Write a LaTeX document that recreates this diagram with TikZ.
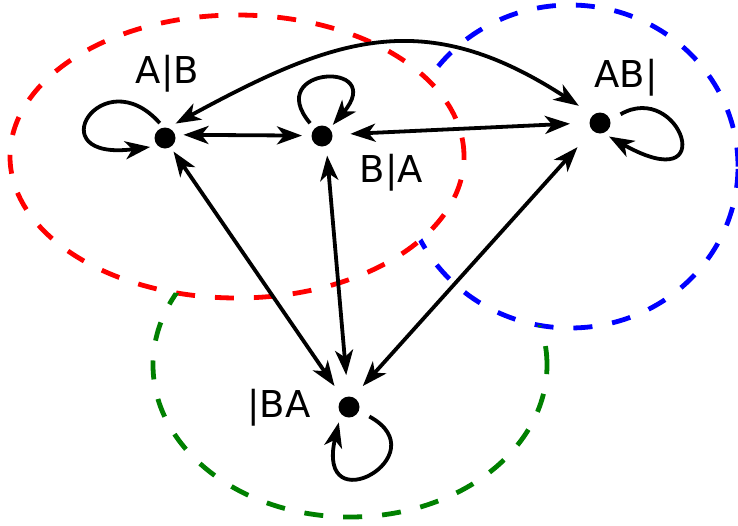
\documentclass[tikz,border=0pt]{standalone}
\usepackage{fontspec}
\setmainfont{DejaVu Sans}
\usetikzlibrary{arrows.meta}
\definecolor{dgreen}{RGB}{0,128,0}
\begin{document}
\begin{tikzpicture}[x=1pt,y=-1pt,
  dot/.style={circle,fill=black,draw=none,minimum size=21pt,inner sep=0pt,outer sep=0pt},
  lbl/.style={anchor=base,inner sep=0pt,font=\fontsize{37}{40}\selectfont},
  tip/.tip={Stealth[length=25pt,width=18pt,inset=7pt]},
  conn/.style={line width=3.8pt,tip-tip},
  loopc/.style={line width=3.8pt,-tip},
  region/.style={line width=4.8pt,dash pattern=on 19pt off 20pt}]
\useasboundingbox (0,0) rectangle (738,525);

% regions
\draw[red,region] (237,156.5) ellipse [x radius=227pt, y radius=141.5pt];
\begin{scope}[even odd rule]
  \clip (-60,-60) rectangle (800,600) (237,156.5) ellipse [x radius=227pt, y radius=141.5pt];
  \draw[blue,region] (570,166.5) ellipse [x radius=168pt, y radius=161.5pt];
  \begin{scope}[even odd rule]
    \clip (-60,-60) rectangle (800,600) (570,166.5) ellipse [x radius=168pt, y radius=161.5pt];
    \draw[dgreen,region] (350,365) ellipse [x radius=197pt, y radius=152pt];
  \end{scope}
\end{scope}

% states
\node[dot] (P) at (165,138) {};
\node[dot] (Q) at (322,136) {};
\node[dot] (R) at (600,123) {};
\node[dot] (S) at (349,407) {};

\node[lbl] (lP) at (167.5,83) {A|B};
\node[lbl] (lQ) at (391.5,182) {B|A};
\node[lbl] (lR) at (626,87) {AB|};
\node[lbl] (lS) at (279,417) {|BA};

% transitions
\draw[conn,shorten <=8.5pt,shorten >=9.5pt] (P.18) -- (Q.178);
\draw[conn,shorten <=18pt,shorten >=19.5pt] (Q.7) -- (R.179);
\draw[conn,shorten <=9pt,shorten >=17pt] (P.75) .. controls (335,37) and (424,5) .. (R.131);
\draw[conn,shorten <=5.5pt,shorten >=15pt] (P.301) -- (S.125);
\draw[conn,shorten <=10pt,shorten >=21.5pt] (Q.294) -- (S.95);
\draw[conn,shorten <=22.5pt,shorten >=15pt] (R.225) -- (S.69);

% self loops
\draw[loopc,shorten <=6pt,shorten >=8pt] (P.97) .. controls (102,58) and (36,162) .. (P.229);
\draw[loopc,shorten <=7pt,shorten >=5pt] (Q.135) .. controls (262,66) and (388,60) .. (Q.44);
\draw[loopc,shorten <=12pt,shorten >=7pt] (R.15) .. controls (680,80) and (722,200) .. (R.286);
\draw[loopc,shorten <=12pt,shorten >=9pt] (S.339) .. controls (440,455) and (315,525) .. (S.219);
\end{tikzpicture}
\end{document}
